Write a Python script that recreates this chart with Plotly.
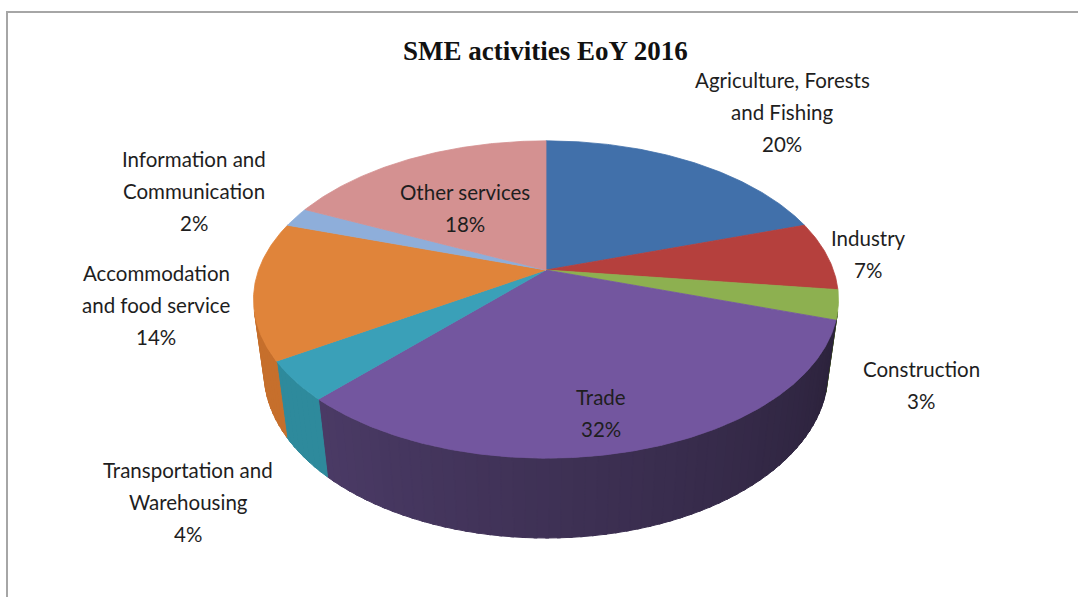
import numpy as np
import plotly.graph_objects as go

# SME activities by sector, end of year 2016 (shares in %)
sectors = [
    "Agriculture, Forests<br>and Fishing",
    "Industry",
    "Construction",
    "Trade",
    "Transportation and<br>Warehousing",
    "Accommodation<br>and food service",
    "Information and<br>Communication",
    "Other services",
]
shares = [20, 7, 3, 32, 4, 14, 2, 18]

top_colors = ["#4170AA", "#B5403D", "#8DB050", "#73569F",
              "#3AA0B8", "#E0843A", "#8EAEDA", "#D49191"]
side_colors = ["#35598A", "#8E302E", "#6E8C3C", "#4B3B66",
               "#2E8A9C", "#C66F2C", "#6F8DB8", "#B07474"]

# first-line anchor of each data label (page pixels)
label_pos = [(782, 80), (868, 238), (921, 369), (601, 397),
             (188, 470), (156, 273), (194, 159), (465, 192)]

W, H = 1078, 597
CX, CY = 546, 270            # projected centre of the pie top
ELEV = np.radians(32.2)      # viewing elevation
DIST = 4.551                 # camera distance (pie radii)
FOCAL = 1308                 # projection scale (px)
THICK = 0.307                # pie thickness (pie radii)
SIN_E, COS_E = np.sin(ELEV), np.cos(ELEV)


def project(theta_deg, z, r=1.0):
    t = np.radians(theta_deg)
    X = r * np.sin(t)
    Y = r * np.cos(t)
    v = Y * SIN_E + z * COS_E
    w = DIST + Y * COS_E - z * SIN_E
    return CX + FOCAL * X / w, CY - FOCAL * v / w


def hex_rgb(h):
    h = h.lstrip("#")
    return np.array([int(h[i:i + 2], 16) for i in (0, 2, 4)], dtype=float)


def shade(h, f):
    c = np.clip(hex_rgb(h) * f, 0, 255).astype(int)
    return f"rgb({c[0]},{c[1]},{c[2]})"


total = float(sum(shares))
bounds = np.concatenate([[0.0], np.cumsum(shares) / total * 360.0])

# front part of the rim that faces the camera
lim = np.degrees(np.arccos(-1.0 / (DIST * COS_E)))
vis_lo, vis_hi = lim, 360.0 - lim

fig = go.Figure()

# rim (side walls), drawn in overlapping thin strips for shading
for i in range(len(shares)):
    a0, a1 = max(bounds[i], vis_lo), min(bounds[i + 1], vis_hi)
    if a1 <= a0:
        continue
    n = max(1, int(np.ceil((a1 - a0) / 2.0)))
    edges = np.linspace(a0, a1, n + 1)
    for j, (b0, b1) in enumerate(zip(edges[:-1], edges[1:])):
        mid = 0.5 * (b0 + b1)
        f = 0.57 + 0.43 * np.clip((mid - 105.0) / 118.0, 0, 1)
        col = shade(side_colors[i], f)
        e1 = min(b1 + 0.6, a1)
        th = np.linspace(b0, e1, 5)
        xt, yt = project(th, 0.0)
        xb, yb = project(th[::-1], -THICK)
        xs = np.concatenate([xt, xb, xt[:1]])
        ys = np.concatenate([yt, yb, yt[:1]])
        fig.add_trace(go.Scatter(x=xs, y=ys, mode="lines", fill="toself",
                                 fillcolor=col, line=dict(color=col, width=1),
                                 hoverinfo="skip", showlegend=False))

# top faces
for i in range(len(shares)):
    th = np.linspace(bounds[i], bounds[i + 1], max(3, int((bounds[i + 1] - bounds[i]) * 2)))
    xa, ya = project(th, 0.0)
    xs = np.concatenate([[CX], xa, [CX]])
    ys = np.concatenate([[CY], ya, [CY]])
    fig.add_trace(go.Scatter(x=xs, y=ys, mode="lines", fill="toself",
                             fillcolor=top_colors[i],
                             line=dict(color=top_colors[i], width=0.8),
                             hoverinfo="skip", showlegend=False))

annotations = []
for name, val, (lx, ly) in zip(sectors, shares, label_pos):
    lines = name.split("<br>") + [f"{val}%"]
    for k, txt in enumerate(lines):
        annotations.append(dict(x=lx, y=ly + 32 * k, text=txt, showarrow=False,
                                xanchor="center", yanchor="middle",
                                font=dict(family="Lato", size=20.5, color="#1E1E1E")))

annotations.append(dict(x=545, y=51, text="SME activities EoY 2016", showarrow=False,
                        xanchor="center", yanchor="middle",
                        font=dict(family="Liberation Serif", size=27, color="#111111",
                                  weight="bold")))

fig.update_layout(
    width=W, height=H,
    margin=dict(l=0, r=0, t=0, b=0),
    paper_bgcolor="white", plot_bgcolor="white",
    xaxis=dict(range=[0, W], visible=False, fixedrange=True),
    yaxis=dict(range=[H, 0], visible=False, fixedrange=True),
    annotations=annotations,
    shapes=[dict(type="rect", x0=7, y0=12, x1=W + 20, y1=H + 20,
                 line=dict(color="#A6A6A6", width=2), layer="below")],
    showlegend=False,
)

fig.write_html("out.html")
